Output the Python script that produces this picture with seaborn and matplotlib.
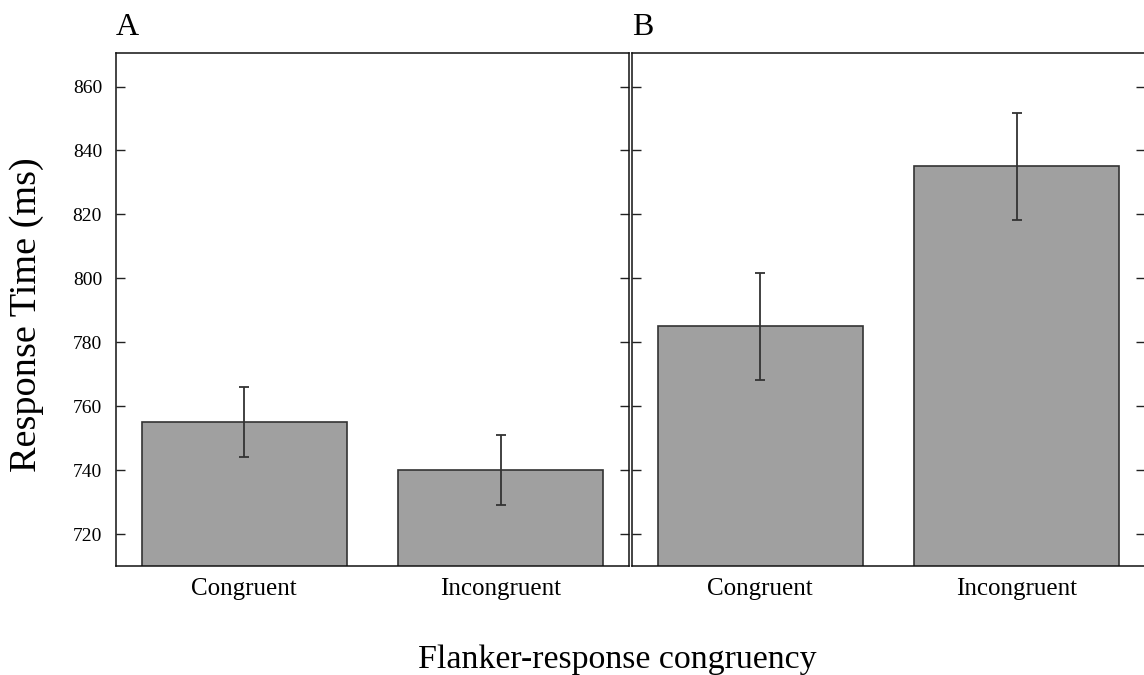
import matplotlib
matplotlib.use('Agg')
import matplotlib.pyplot as plt
import pandas as pd
import seaborn as sns

# condition labels and mean RTs (ms) with error bar half-widths
conditions = ["Congruent", "Incongruent"]
rt_a = [755, 740]
err_a = [11, 11]
rt_b = [785, 835]
err_b = [16.7, 16.7]
y_ticks = [720, 740, 760, 780, 800, 820, 840, 860]
y_lim = (710, 870.5)

sns.set_theme(style="white")
plt.rcParams['font.family'] = ['Liberation Serif', 'DejaVu Serif']
plt.rcParams['text.color'] = 'black'
plt.rcParams['xtick.color'] = 'black'
plt.rcParams['ytick.color'] = 'black'

fig = plt.figure(figsize=(11.44, 6.75), dpi=100)
ax_a = fig.add_axes([0.1014, 0.1615, 0.4484, 0.76])
ax_b = fig.add_axes([0.5524, 0.1615, 0.4484, 0.76])

panels = [(ax_a, rt_a, err_a, "A"), (ax_b, rt_b, err_b, "B")]
for ax, rt, err, letter in panels:
    df = pd.DataFrame({"cond": conditions, "rt": rt})
    sns.barplot(data=df, x="cond", y="rt", color="#a0a0a0", saturation=1,
                edgecolor="#333333", linewidth=1.2, width=0.8, errorbar=None, ax=ax)
    ax.errorbar(conditions, rt, yerr=err, fmt="none", ecolor="#333333",
                elinewidth=1.3, capsize=3.5, capthick=1.3)
    ax.set_ylim(*y_lim)
    ax.set_xlim(-0.5, 1.5)
    ax.set_yticks(y_ticks)
    ax.tick_params(axis="y", direction="in", length=6.5, width=1, color="#222222",
                   left=True, right=True, labelsize=14, pad=10, labelcolor="black")
    ax.tick_params(axis="x", length=0, labelsize=18, pad=9, labelcolor="black")
    for s in ax.spines.values():
        s.set_color("#111111")
        s.set_linewidth(1.1)
    ax.set_xlabel("")
    ax.set_ylabel("")
    ax.text(0.0, 1.035, letter, transform=ax.transAxes, ha="left", va="baseline",
            fontsize=23, color="black")

ax_b.tick_params(axis="y", labelleft=False)

ax_a.set_ylabel("Response Time (ms)", fontsize=27.5, color="black")
ax_a.yaxis.set_label_coords(-0.14, 0.49)
fig.text(0.54, 0.011, "Flanker-response congruency", ha="center", va="baseline",
         fontsize=24.4, color="black")

fig.savefig("out.png", dpi=100)
